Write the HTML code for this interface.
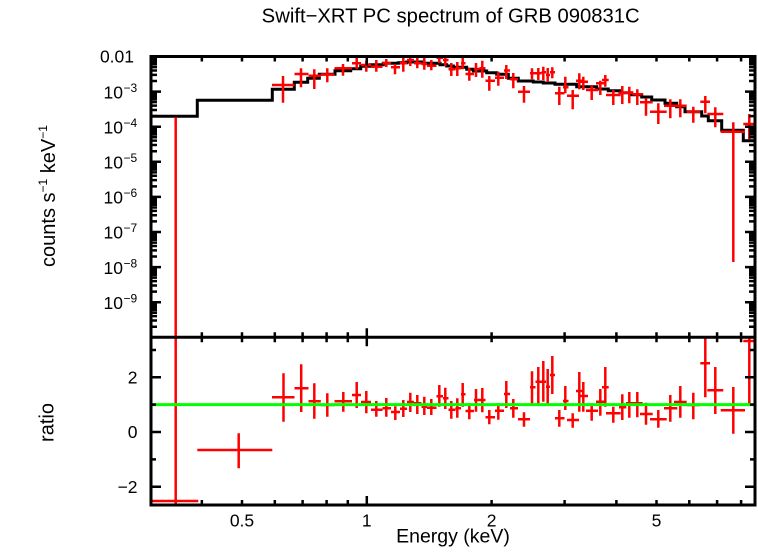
<!DOCTYPE html>
<html>
<head>
<meta charset="utf-8">
<style>
html,body{margin:0;padding:0;background:#fff;}
svg{display:block;}
text{font-family:"Liberation Sans",Arial,sans-serif;fill:#000;}
</style>
</head>
<body>
<svg width="758" height="556" viewBox="0 0 758 556" xmlns="http://www.w3.org/2000/svg">
<defs>
<clipPath id="ct"><rect x="151" y="56.5" width="604" height="280.8"/></clipPath>
<clipPath id="cb"><rect x="151" y="337.3" width="604" height="167.7"/></clipPath>
<path id="xt" d="M201.85,0v5M242,0v5M274.8,0v5M302.6,0v5M326.6,0v5M347.8,0v5M491.6,0v5M564.6,0v5M616.4,0v5M656.5,0v5M689.3,0v5M717.1,0v5M741.1,0v5M366.8,0v9" stroke="#000" stroke-width="2.5" fill="none"/>
<path id="dm" d="M151,-10.57h6M151,-16.75h6M151,-21.13h6M151,-24.53h6M151,-27.31h6M151,-29.66h6M151,-31.7h6M151,-33.49h6" stroke="#000" stroke-width="2.5" fill="none"/>
<g id="yl">
<use href="#dm" transform="translate(0,337.3)"/>
<use href="#dm" transform="translate(0,302.2)"/>
<use href="#dm" transform="translate(0,267.1)"/>
<use href="#dm" transform="translate(0,232)"/>
<use href="#dm" transform="translate(0,196.9)"/>
<use href="#dm" transform="translate(0,161.8)"/>
<use href="#dm" transform="translate(0,126.7)"/>
<use href="#dm" transform="translate(0,91.6)"/>
<path d="M151,91.6h10M151,126.7h10M151,161.8h10M151,196.9h10M151,232h10M151,267.1h10M151,302.2h10M151,377.3h10M151,432h10M151,486.7h10M151,350h5M151,404.65h5M151,459.35h5" stroke="#000" stroke-width="2.5" fill="none"/>
</g>
</defs>

<path clip-path="url(#ct)" fill="none" stroke="#000" stroke-width="3" d="M151,116.3H197.3V100.3H272.3V89.3H294.3V82.3H307.7V78.3H319.3V74.3H335V70.7H350.7V68.7H360.7V66.3H370V64.7H383.3V63.3H398.3V62.7H406.7V62H423.3V63.3H440V64.7H446.7V66H453.3V67.3H466.7V69.3H473.3V71H486.7V72.7H496.7V74.3H508.3V78.3H518.3V81H533.3V82H543.3V83H555V84.3H576.7V86.7H596.7V89H608.3V90.7H620V92.7H631.7V94.7H641.7V97H651.7V100H665V103.3H676.7V106.7H685V111.7H701.7V116H708.3V120.7H721.7V130.3H743.3V140.7H755"/>

<path clip-path="url(#ct)" fill="none" stroke="#f00" stroke-width="2.5" d="M175.7,117.3V337.3 M272,85H294.5M283,76V102.7 M294.5,74H308.5M301,68.3V87.3 M308.5,75.7H320.8M314.3,69.3V89 M320.8,74.5H334.5M327.3,68.3V82.3 M334.5,68.3H352M343,64V75.7 M352,63.3H361M356.7,57.3V69.3 M361,65H371M366.3,60.7V71.7 M371,66.7H382.5M376.3,60V71.7 M382.5,63.3H391M386.3,59V67 M391,67.3H400M395,64V74.3 M400,63.3H407M403.3,58V71.7 M407,60H414M410.3,56V66 M414,63.3H421.5M417.3,56.7V68.3 M421.5,64H427M424.3,57V69.7 M427,65.7H436.5M431.3,60V70.3 M436.5,57.7H443M439.3,55V63 M443,60H448.5M445.3,56V66 M448.5,69.3H455.5M451.3,63V76 M455.5,68.3H461M457.3,62V76 M461,63.3H465.5M462.7,57V69.3 M465.5,74H474M469.3,67.7V80.7 M474,69H479.5M476,63V77 M479.5,68.3H485.5M482.3,60.7V77.7 M485.5,80.7H495M489.3,76V90.7 M495,77.7H504M498.3,71.7V85.7 M504,70.5H510M506.3,65V79 M510,79.3H518M513.3,73V88.3 M518,91.7H530M524,86V102.7 M530,73.3H535.5M532,68.3V79.3 M535.5,73.3H541.5M538.3,68V80 M541.5,72.3H546M543.3,66.7V80 M546,75H550M547.7,68V82 M550,72.3H555M552.3,67.3V78.3 M555,93.3H564.5M559.3,86.7V105 M563,87.3H568.5M565.3,76.7V93.3 M567,95.7H579M572.7,90V109.3 M576,80.7H582.7M579.3,73.3V89.3 M580,81.7H588M583.3,76.7V90 M586,90H598M591.7,85V100 M596,83.3H605M600.3,80.7V95 M602,80H608.7M605.3,75V86.7 M606,95H620.7M613.3,90V105 M619,92.7H626.3M622.3,86V104 M626,92.7H633.3M629.3,86.7V103.3 M632.3,94.3H642.7M637.3,89.3V105 M640,102.3H652.7M646,98.3V115.7 M650,111.7H666.7M658.3,103.3V124 M664,105.7H677.3M670.3,99.3V118.3 M674,105.7H686.7M680.3,99.3V117.3 M686.7,111.7H700.3M693.3,106.7V122.7 M700.3,101.7H710M705.3,96V113.3 M707.3,114H723.3M715.3,107.3V127.3 M720.7,131.7H745M733.3,122.3V262 M743.3,124H756.7M749.3,114V139.3"/>

<path clip-path="url(#cb)" fill="none" stroke="#f00" stroke-width="2.5" d="M151,501H198.3M175.7,337.3V505 M197.3,450H272.3M238.7,433.3V468.3 M272,397.2H294.5M283.5,373.2V421.7 M294.5,388.2H308.5M301.2,364.2V412 M308.5,401.2H320.8M314.3,383.2V418.7 M320.8,405H334.5M327.3,393.3V416.7 M334.5,401.3H352M343.3,392V411.7 M352,395H361M356.7,382V408 M361,402H371M366.3,391V413.3 M371,409.7H382.5M376.3,401V416.7 M382.5,408.3H391M386.3,398V416.7 M391,412H400M395.3,406.3V420 M400,408.7H407M403.3,400V417 M407,402H414M410.3,392.7V412 M414,403.3H421.5M417.3,395V414 M421.5,406.7H427M424.3,396.7V415 M427,407.7H436.5M431.3,399V415 M436.5,396.3H443M439.3,385V406.7 M443,398.3H448.5M445.3,387.7V409 M448.5,409.7H455.5M451.3,401V418.7 M455.5,408.3H461M457.3,398.3V417.7 M461,394.3H465.5M462.7,383V406.7 M465.5,411H474M469.3,403.3V419.3 M474,400H479.5M476,389V411.7 M479.5,400H485.5M482.3,388V412.3 M485.5,417.3H495M489.3,410V424.3 M495,410.7H504M498.3,403.3V419.7 M504,394H510M506.3,381V408 M510,408.3H518M513.3,399V417.7 M518,419.3H530M524,412.3V426.7 M530,387.3H535.5M532,371.3V404 M535.5,381.7H541.5M538.3,367V404 M541.5,381.7H546M543.3,361V401.7 M546,386.7H550M547.7,369V404 M550,375H555M552.3,356V394 M555,418.3H564.5M559.3,410V426.7 M563,401H568.5M565.3,386V410 M567,420H579M572.7,413.3V427.7 M576,391H582.7M579.3,372V411.7 M580,396H588M583.3,382V411.7 M586,410.7H598M591.7,403.3V420.7 M596,401.7H605M600.3,389V415.7 M602,387.3H608.7M605.3,367V406.7 M606,413.3H620.7M613.3,406.7V422.7 M619,407.3H626.3M622.3,394.3V420 M626,403.3H633.3M629.3,392V417.7 M632.3,403.3H642.7M637.3,392V417.3 M640,414H652.7M646,402.7V424.7 M650,419.3H666.7M658.3,410V427.7 M664,408.3H677.3M670.3,395V421.7 M674,402H686.7M680.3,386V417.7 M686.7,405H700.3M693.3,392.7V419.3 M700.3,363.3H710M705.3,337.3V397.3 M707.3,390.3H723.3M715.3,367V414 M720.7,410.3H745M733.3,387V433.7 M743.3,341H756.7M749.3,337.3V404"/>

<path d="M151,404.65H755" stroke="#0f0" stroke-width="3" fill="none"/>

<use href="#xt" transform="translate(0,56.5)"/>
<use href="#xt" transform="translate(0,337.3) scale(1,-1)"/>
<use href="#xt" transform="translate(0,337.3)"/>
<use href="#xt" transform="translate(0,505) scale(1,-1)"/>
<use href="#yl"/>
<use href="#yl" transform="translate(906,0) scale(-1,1)"/>

<rect x="151" y="56.5" width="604" height="448.5" fill="none" stroke="#000" stroke-width="3"/>
<path d="M151,337.3H755" stroke="#000" stroke-width="3" fill="none"/>

<text x="261.7" y="22.5" font-size="20" textLength="378" lengthAdjust="spacingAndGlyphs">Swift−XRT PC spectrum of GRB 090831C</text>

<g font-size="17.5">
<text x="134" y="62.5" text-anchor="end">0.01</text>
<text x="103.5" y="98.3">10<tspan font-size="12" x="123.5" y="91.8">−3</tspan></text>
<text x="103.5" y="133.4">10<tspan font-size="12" x="123.5" y="126.9">−4</tspan></text>
<text x="103.5" y="168.5">10<tspan font-size="12" x="123.5" y="162">−5</tspan></text>
<text x="103.5" y="203.6">10<tspan font-size="12" x="123.5" y="197.1">−6</tspan></text>
<text x="103.5" y="238.7">10<tspan font-size="12" x="123.5" y="232.2">−7</tspan></text>
<text x="103.5" y="273.8">10<tspan font-size="12" x="123.5" y="267.3">−8</tspan></text>
<text x="103.5" y="308.9">10<tspan font-size="12" x="123.5" y="302.4">−9</tspan></text>
</g>

<g font-size="17.5" text-anchor="end">
<text x="137.5" y="383.5">2</text>
<text x="137.5" y="438.2">0</text>
<text x="137.5" y="492.9">−2</text>
</g>

<g font-size="17.5" text-anchor="middle">
<text x="242" y="526.7">0.5</text>
<text x="366.8" y="526.7">1</text>
<text x="491.6" y="526.7">2</text>
<text x="656.5" y="526.7">5</text>
</g>

<text x="453" y="542.7" font-size="19.5" text-anchor="middle">Energy (keV)</text>
<text transform="translate(53.3,422.5) rotate(-90)" font-size="20" text-anchor="middle">ratio</text>
<text transform="translate(55,196) rotate(-90)" font-size="20" text-anchor="middle">counts s<tspan font-size="12" dy="-8">−1</tspan><tspan dy="8"> keV</tspan><tspan font-size="12" dy="-8">−1</tspan></text>
</svg>
</body>
</html>
